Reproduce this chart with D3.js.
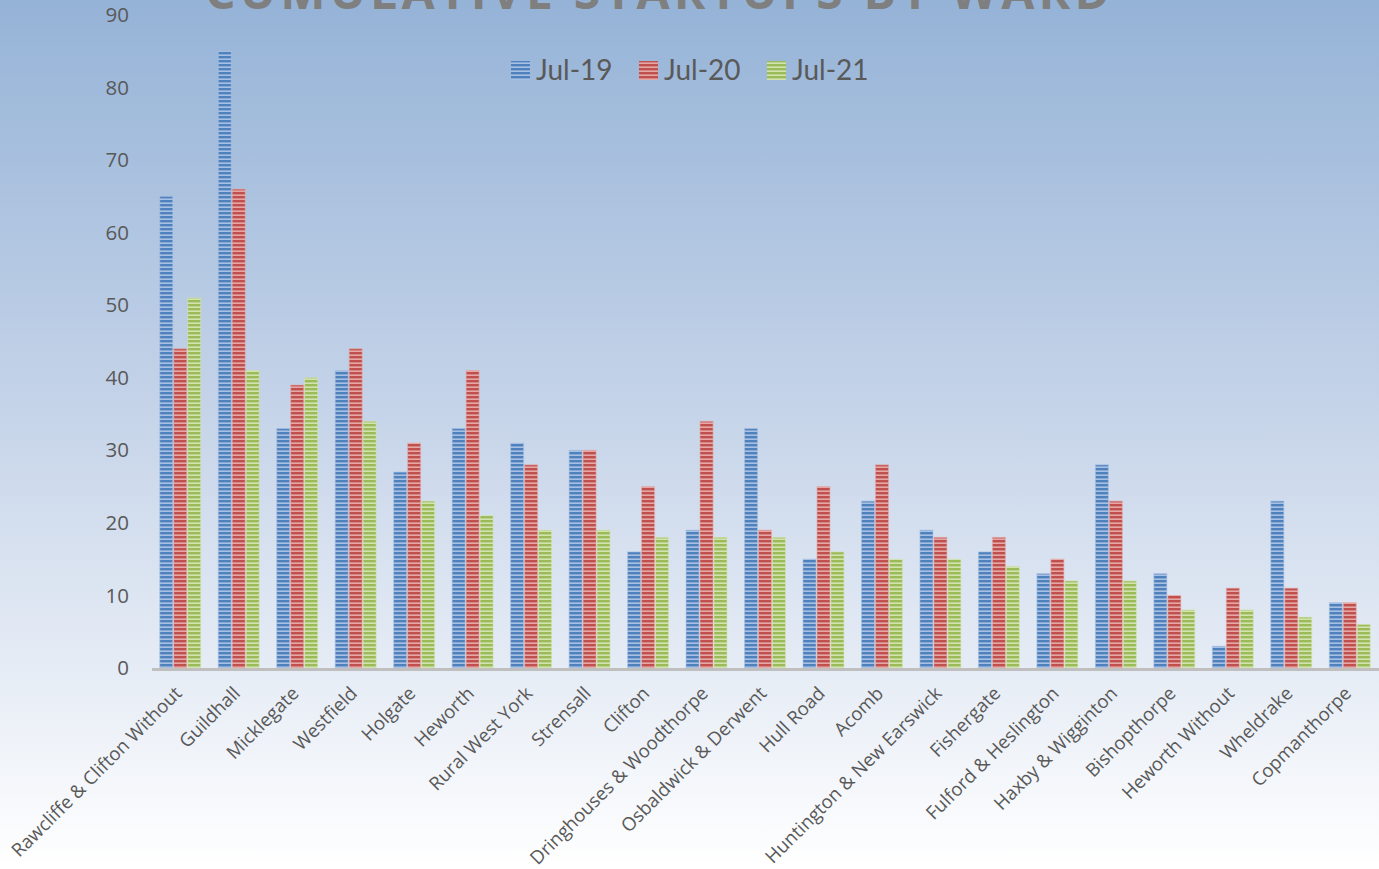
<!DOCTYPE html>
<html>
<head>
  <meta charset="utf-8">
  <script src="https://d3js.org/d3.v7.min.js"></script>
  <style>
    body { margin: 0; overflow: hidden; }
    .tick text { font-family: 'Open Sans', sans-serif; fill: #595959; }
    .legend text { font-family: 'Lato', sans-serif; fill: #595959; }
  </style>
</head>
<body>
<div id="chart"></div>
<script>
  // ward names, in the order shown
  var wards = ["Rawcliffe & Clifton Without", "Guildhall", "Micklegate", "Westfield", "Holgate",
    "Heworth", "Rural West York", "Strensall", "Clifton", "Dringhouses & Woodthorpe",
    "Osbaldwick & Derwent", "Hull Road", "Acomb", "Huntington & New Earswick", "Fishergate",
    "Fulford & Heslington", "Haxby & Wigginton", "Bishopthorpe", "Heworth Without",
    "Wheldrake", "Copmanthorpe"];

  var seriesNames = ["Jul-19", "Jul-20", "Jul-21"];
  var jul19 = [65, 85, 33, 41, 27, 33, 31, 30, 16, 19, 33, 15, 23, 19, 16, 13, 28, 13, 3, 23, 9];
  var jul20 = [44, 66, 39, 44, 31, 41, 28, 30, 25, 34, 19, 25, 28, 18, 18, 15, 23, 10, 11, 11, 9];
  var jul21 = [51, 41, 40, 34, 23, 21, 19, 19, 18, 18, 18, 16, 15, 15, 14, 12, 12, 8, 8, 7, 6];
  var yTicks = [0, 10, 20, 30, 40, 50, 60, 70, 80, 90];

  var W = 1379, H = 869;
  var colors = [
    {dark: "#4f81bd", light: "#a7c0e3"},
    {dark: "#c0504d", light: "#e6a8a6"},
    {dark: "#9bbb59", light: "#d3e3b0"}
  ];

  var svg = d3.select("#chart").append("svg")
      .attr("width", W).attr("height", H);

  var defs = svg.append("defs");
  var grad = defs.append("linearGradient").attr("id", "bg")
      .attr("x1", 0).attr("y1", 0).attr("x2", 0).attr("y2", 1);
  grad.append("stop").attr("offset", "0%").attr("stop-color", "#95b3d7");
  grad.append("stop").attr("offset", "45%").attr("stop-color", "#c3d2e8");
  grad.append("stop").attr("offset", "100%").attr("stop-color", "#ffffff");

  // striped fills, one per series
  colors.forEach(function(c, i) {
    var p = defs.append("pattern").attr("id", "stripe" + i)
        .attr("patternUnits", "userSpaceOnUse")
        .attr("width", 4).attr("height", 4);
    p.append("rect").attr("width", 4).attr("height", 4).attr("fill", c.light);
    p.append("rect").attr("width", 4).attr("height", 2.4).attr("fill", c.dark);
  });

  svg.append("rect").attr("width", W).attr("height", H).attr("fill", "url(#bg)");

  var margin = {left: 151, right: 0, top: 15, bottom: 201};

  var x0 = d3.scaleBand().domain(wards)
      .range([margin.left, W - margin.right])
      .paddingInner(0.3).paddingOuter(0.15);
  var x1 = d3.scaleBand().domain(seriesNames)
      .range([0, x0.bandwidth()]).paddingInner(0.07);
  var y = d3.scaleLinear().domain([0, 90])
      .range([H - margin.bottom, margin.top]);

  // y axis (labels only)
  var yAxis = svg.append("g")
      .attr("transform", "translate(" + (margin.left - 22) + ",0)")
      .call(d3.axisLeft(y).tickValues(yTicks).tickSize(0).tickPadding(0));
  yAxis.select(".domain").remove();
  yAxis.selectAll("text").style("font-size", "20.5px");

  var data = [jul19, jul20, jul21];
  var groups = svg.append("g").selectAll("g")
      .data(wards).join("g")
      .attr("transform", function(d) { return "translate(" + x0(d) + ",0)"; });

  groups.selectAll("rect")
      .data(function(d, i) {
        return seriesNames.map(function(s, j) { return {s: s, j: j, v: data[j][i]}; });
      })
      .join("rect")
      .attr("x", function(d) { return x1(d.s); })
      .attr("y", function(d) { return y(d.v); })
      .attr("width", x1.bandwidth())
      .attr("height", function(d) { return y(0) - y(d.v); })
      .attr("fill", function(d) { return "url(#stripe" + d.j + ")"; })
      .attr("stroke", function(d) { return colors[d.j].light; })
      .attr("stroke-opacity", 0.6)
      .attr("stroke-width", 1);

  // x axis line
  svg.append("line")
      .attr("x1", margin.left + 1).attr("x2", W)
      .attr("y1", y(0) + 1.5).attr("y2", y(0) + 1.5)
      .attr("stroke", "#bfbfbf").attr("stroke-width", 3);

  // x labels, rotated
  var xAxis = svg.append("g")
      .attr("transform", "translate(0," + (y(0) + 22) + ")")
      .call(d3.axisBottom(x0).tickSize(0).tickPadding(0));
  xAxis.select(".domain").remove();
  xAxis.selectAll("text")
      .style("font-size", "18.6px")
      .attr("text-anchor", "end")
      .attr("dy", "0.35em")
      .attr("transform", "translate(-2,0) rotate(-45)");

  // title, mostly cut off by the top edge
  svg.append("text")
      .attr("x", 205).attr("y", 9)
      .attr("textLength", 905).attr("lengthAdjust", "spacing")
      .style("font-family", "'Open Sans', sans-serif")
      .style("font-weight", "bold")
      .style("font-size", "48px")
      .style("fill", "#7f7f7f")
      .text("CUMULATIVE STARTUPS BY WARD");

  // legend
  var legend = svg.append("g").attr("class", "legend");
  var legX = [511, 639, 767];
  seriesNames.forEach(function(s, i) {
    legend.append("rect")
        .attr("x", legX[i]).attr("y", 61)
        .attr("width", 19).attr("height", 19)
        .attr("fill", "url(#stripe" + i + ")");
    legend.append("text")
        .attr("x", legX[i] + 25).attr("y", 80)
        .style("font-size", "28px")
        .text(s);
  });
</script>
</body>
</html>
